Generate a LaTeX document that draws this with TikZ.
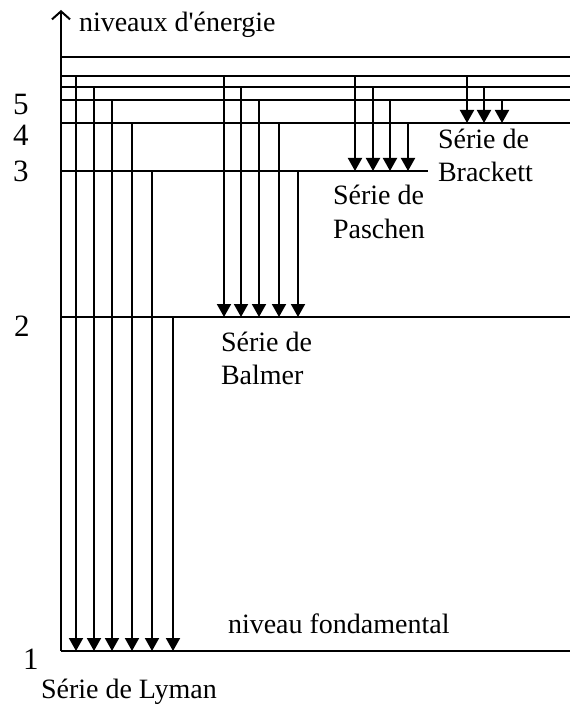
\documentclass[tikz,border=0pt]{standalone}
\usepackage{fontspec}
\setmainfont{Liberation Serif}
\usepackage{tikz}
\usetikzlibrary{arrows.meta, positioning, calc}

\begin{document}
\begin{tikzpicture}[x=1pt, y=-1pt, line width=2pt,
  niveau/.style={line width=2pt},
  trans/.style={-{Triangle[length=13pt,width=14pt]}},
  etiq/.style={font=\fontsize{28}{33}\selectfont, inner sep=0pt, anchor=base west, align=left},
  num/.style={font=\fontsize{31}{33}\selectfont, inner sep=0pt, anchor=base west}]
\useasboundingbox (0,0) rectangle (571,711);

% Energy levels
\coordinate (n1) at (61,651);
\coordinate (n2) at (61,317);
\coordinate (n3) at (61,171);
\coordinate (n4) at (61,123);
\coordinate (n5) at (61,100);
\coordinate (n6) at (61,87);
\coordinate (n7) at (61,76);
\coordinate (ninf) at (61,57);

\foreach \n in {n1,n2,n4,n5,n6,n7,ninf}
  \draw[niveau] (\n) -- ++(509,0);
\draw[niveau] (n3) -- ++(367,0);

% Axis
\draw[-{Straight Barb[length=8pt,width=18pt]}] (n1) -- (61,10);
\node[etiq] (axe) at (78,32) {niveaux d\textquotesingle énergie};

% Level numbers
\node[num] (l5) at (12,115) {5};
\node[num] (l4) at (12,146) {4};
\node[num] (l3) at (12,182) {3};
\node[num] (l2) at (13,336) {2};
\node[num] (l1) at (22,669) {1};

% Lyman series
\foreach \x/\n in {76/7,94/6,112/5,132/4,152/3,173/2}
  \draw[trans] (\x,0 |- n\n) -- (\x,0 |- n1);
% Balmer series
\foreach \x/\n in {224/7,241/6,259/5,279/4,298/3}
  \draw[trans] (\x,0 |- n\n) -- (\x,0 |- n2);
% Paschen series
\foreach \x/\n in {355/7,373/6,390/5,408/4}
  \draw[trans] (\x,0 |- n\n) -- (\x,0 |- n3);
% Brackett series
\foreach \x/\n in {467/7,484/6,502/5}
  \draw[trans] (\x,0 |- n\n) -- (\x,0 |- n4);

% Series names
\node[etiq] (lyman) at (40,698) {Série de Lyman};
\node[etiq] (fond) at (227,633) {niveau fondamental};
\node[etiq] (balmer) at (220,384) {Série de\\Balmer};
\node[etiq] (paschen) at (332,238) {Série de\\Paschen};
\node[etiq] (brackett) at (437,182) {Série de\\Brackett};
\end{tikzpicture}
\end{document}
